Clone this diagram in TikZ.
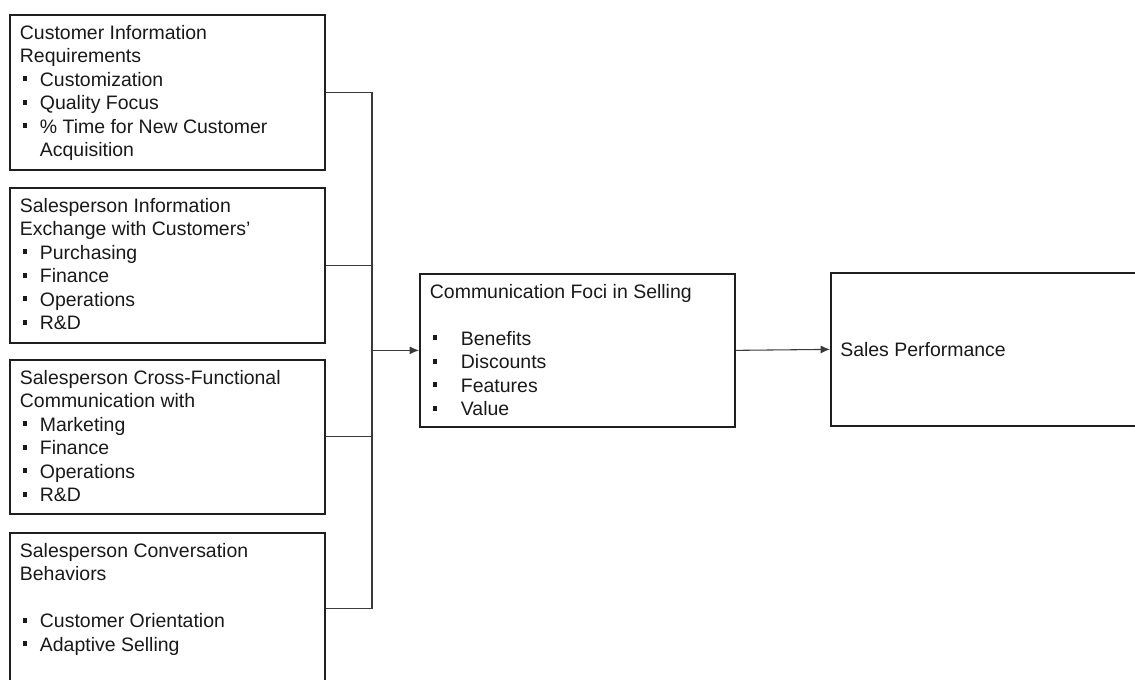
\documentclass[tikz,border=0pt]{standalone}
\usepackage{fontspec}
\setmainfont{Liberation Sans}
\usetikzlibrary{arrows.meta}
\definecolor{boxline}{HTML}{1F1F1F}
\definecolor{linkline}{HTML}{3A3A3A}
\providecommand{\sqbul}[1][15pt]{\makebox[#1][l]{\hspace{2pt}\rule[3.8pt]{3.6pt}{3.6pt}}}

\begin{document}
\begin{tikzpicture}[x=0.75pt, y=-0.75pt,
  box/.style={draw=boxline, line width=1.3pt, rectangle, inner sep=0pt,
    anchor=north west, minimum width=236.25pt},
  boxtext/.style={anchor=north west, inner sep=0pt, align=left, text=black!90,
    font=\fontsize{14.6}{17.6}\selectfont},
  link/.style={draw=linkline, line width=0.8pt},
  flow/.style={link, -{Latex[length=7pt, width=6pt]}}]

  \useasboundingbox (0,0) rectangle (1135,680);
  \clip (0,0) rectangle (1135,680);

  % --------------------------------------------------------------------------
  % Left column: four antecedent boxes
  % --------------------------------------------------------------------------
  \node[box, minimum height=116.25pt] (custinfo) at (9,14) {};
  \node[boxtext] (custinfo-txt) at ([shift={(8pt,-8.2pt)}]custinfo.north west)
    {Customer Information\\
     Requirements\\
     \sqbul Customization\\
     \sqbul Quality Focus\\
     \sqbul \% Time for New Customer\\
     \hspace*{15pt}Acquisition};

  \node[box, minimum height=116.25pt] (infoex) at (9,187) {};
  \node[boxtext] (infoex-txt) at ([shift={(8pt,-8.2pt)}]infoex.north west)
    {Salesperson Information\\
     Exchange with Customers'\\
     \sqbul Purchasing\\
     \sqbul Finance\\
     \sqbul Operations\\
     \sqbul R\&D};

  \node[box, minimum height=115.5pt] (crossfn) at (9,359) {};
  \node[boxtext] (crossfn-txt) at ([shift={(8pt,-8.2pt)}]crossfn.north west)
    {Salesperson Cross-Functional\\
     Communication with\\
     \sqbul Marketing\\
     \sqbul Finance\\
     \sqbul Operations\\
     \sqbul R\&D};

  \node[box, minimum height=114pt] (convo) at (9,532) {};
  \node[boxtext] (convo-txt) at ([shift={(8pt,-8.2pt)}]convo.north west)
    {Salesperson Conversation\\
     Behaviors\\[17.6pt]
     \sqbul Customer Orientation\\
     \sqbul Adaptive Selling};

  % --------------------------------------------------------------------------
  % Middle: communication foci, right: outcome
  % --------------------------------------------------------------------------
  \node[box, minimum height=114.75pt] (foci) at (419,273) {};
  \node[boxtext] (foci-txt) at ([shift={(8pt,-8.2pt)}]foci.north west)
    {Communication Foci in Selling\\[17.6pt]
     \sqbul[23.25pt]Benefits\\
     \sqbul[23.25pt]Discounts\\
     \sqbul[23.25pt]Features\\
     \sqbul[23.25pt]Value};

  \node[box, minimum width=247.5pt, minimum height=114.75pt] (perf) at (830,272) {};
  \node[boxtext, anchor=west] (perf-txt) at ([xshift=7.5pt]perf.west)
    {Sales Performance};

  % --------------------------------------------------------------------------
  % Connectors
  % --------------------------------------------------------------------------
  \path (foci.west) ++(-47,0) coordinate (hub);
  \foreach \src in {custinfo, infoex, crossfn, convo}
    \draw[link] (\src.east) -| (hub);
  \draw[flow] (hub) -- (foci.west);
  \draw[flow] (foci.east) -- (perf.west);

\end{tikzpicture}
\end{document}
